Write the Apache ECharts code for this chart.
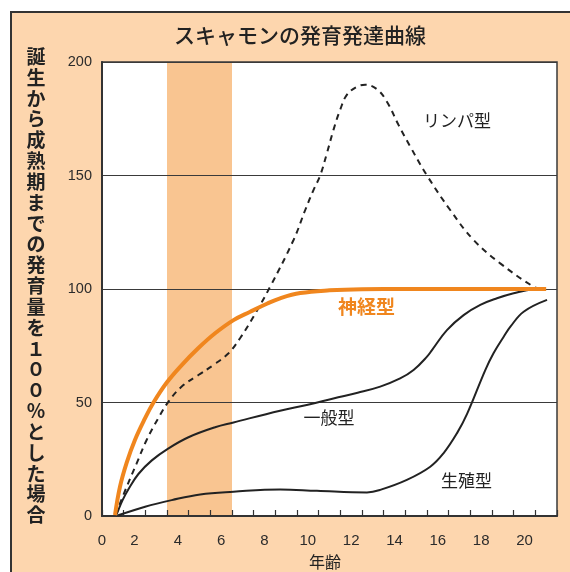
<!DOCTYPE html>
<html>
<head>
<meta charset="utf-8">
<script src="https://cdn.jsdelivr.net/npm/echarts@6/dist/echarts.min.js"></script>
<style>
  html, body { margin: 0; padding: 0; background: #ffffff; }
  #chart { width: 570px; height: 572px; }
</style>
</head>
<body>
<div id="chart"></div>
<script>
// Scammon growth curves. x values are positions on the age axis (one tick per year),
// y values are growth as % of the amount reached at maturity.
const nerveX   = [0.60, 0.83, 1.14, 1.52, 1.99, 2.37, 2.99, 3.68, 4.45, 5.22, 6.07, 6.84, 7.61, 8.22, 9.15, 10.5, 12, 14, 17, 20.5];
const nerveY   = [0.4, 12.9, 23.5, 33.5, 43.1, 49.9, 58.8, 66.5, 74, 80.5, 86.3, 90, 93.5, 95.9, 98.2, 99.4, 99.9, 100, 100, 100];

const lymphX   = [0.62, 1.14, 1.60, 2.06, 2.60, 3.07, 3.68, 4.45, 5.14, 5.84, 6.37, 6.99, 7.76, 8.84, 9.38, 9.76, 10.07, 10.38, 10.68, 10.99, 11.30, 11.76, 12.15, 12.69, 13.15, 13.69, 14.23, 15.0, 16.07, 17.15, 18.38, 19.92, 20.3];
const lymphY   = [0.4, 12.9, 23.2, 33.5, 43.1, 50.4, 57, 62.1, 66.5, 71.7, 78.3, 87.8, 101, 121.6, 134.8, 143.6, 150, 159.8, 170, 178.9, 185.5, 189.1, 190, 188, 182.5, 172.2, 162.7, 150, 134.8, 121.6, 111.3, 101, 100];

const generalX = [0.65, 0.95, 1.22, 1.68, 2.30, 3.07, 3.99, 5.22, 6.07, 8.22, 9.5, 10.68, 11.8, 12.84, 13.76, 14.38, 15.0, 15.23, 15.92, 16.69, 17.46, 18.23, 19.0, 19.92, 20.3];
const generalY = [0, 7, 11.8, 18.5, 24.5, 29.8, 34.7, 39.1, 41.2, 46.4, 49, 51.8, 54.3, 57, 60.6, 64.3, 70.2, 73.1, 81.9, 88.5, 93, 95.9, 98.1, 99.9, 100];

const genitalX = [0.75, 1.99, 3.22, 4.53, 6.07, 8.22, 9.92, 12.23, 12.84, 14.07, 15.15, 15.76, 16.38, 16.85, 17.69, 18.07, 18.54, 18.85, 19.46, 20.54];
const genitalY = [0.3, 4.1, 7, 9.5, 10.7, 11.7, 11.1, 10.4, 11.5, 15.9, 21.7, 27.6, 36.4, 45, 64.3, 71.7, 79, 83.4, 90, 95.2];

// highlighted early-childhood band on the age axis
const bandRange = [3, 6];

const yTicks = [0, 50, 100, 150, 200];
const ageLabels = ['0', '2', '4', '6', '8', '10', '12', '14', '16', '18', '20'];

const titleText = 'スキャモンの発育発達曲線';
const yName = '誕生から成熟期までの発育量を１００％とした場合';
const xName = '年齢';

const PEACH = '#FDD6AE';
const BAND = '#F9C591';
const ORANGE = '#F0861E';
const INK = '#2b2b2b';
const JP = '"Noto Sans CJK JP", "Noto Sans", sans-serif';
const NUM = '"Liberation Sans", Arial, sans-serif';

const zip = (xs, ys) => xs.map((x, i) => [x, ys[i]]);

const chart = echarts.init(document.getElementById('chart'), null, { renderer: 'canvas' });

const label = (text, x, y, font, fill) => ({
  type: 'text', z: 10,
  style: { text, x, y, textAlign: 'center', textVerticalAlign: 'middle', font, fill }
});

const curve = (name, xs, ys, lineStyle, z) => ({
  name, type: 'line', smooth: 0.4, showSymbol: false, z,
  data: zip(xs, ys), lineStyle
});

chart.setOption({
  backgroundColor: '#ffffff',
  animation: false,
  grid: {
    left: 102, top: 62, right: 13, bottom: 56,
    show: true, borderColor: '#3a3a3a', borderWidth: 1.5, backgroundColor: 'transparent'
  },
  xAxis: [
    {
      type: 'value', min: 0, max: 21, interval: 1,
      axisLine: { show: true, lineStyle: { color: '#333', width: 2 } },
      axisTick: { show: true, inside: true, length: 6, lineStyle: { color: '#333', width: 1.2 } },
      axisLabel: { show: false },
      splitLine: { show: false }
    },
    {
      // label-only axis, shifted half a year so age captions sit between ticks
      type: 'value', min: 0.5, max: 21.5, interval: 0.5, position: 'bottom',
      axisLine: { show: false }, axisTick: { show: false }, splitLine: { show: false },
      axisLabel: {
        interval: 0, margin: 17, fontSize: 15, color: INK, fontFamily: NUM, hideOverlap: false,
        formatter: v => {
          if (Math.abs(v - 0.5) < 1e-6) return ageLabels[0];
          if (Number.isInteger(v) && v % 2 === 0 && v >= 2) return ageLabels[v / 2];
          return '';
        }
      }
    }
  ],
  yAxis: {
    type: 'value', min: yTicks[0], max: yTicks[yTicks.length - 1], interval: 50,
    axisLine: { show: true, lineStyle: { color: '#333', width: 2 } },
    axisTick: { show: false },
    axisLabel: { margin: 10, fontSize: 14.5, color: INK, fontFamily: NUM },
    splitLine: { show: true, lineStyle: { color: '#3a3a3a', width: 1.2 } }
  },
  graphic: [
    { type: 'rect', z: -10, shape: { x: 11, y: 12, width: 620, height: 620 },
      style: { fill: PEACH, stroke: '#333', lineWidth: 2 } },
    { type: 'rect', z: -9, shape: { x: 102, y: 62, width: 455, height: 454 },
      style: { fill: '#ffffff' } },
    label(titleText, 300, 35, '500 21px ' + JP, '#222'),
    { type: 'text', z: 10,
      style: { text: yName.split('').join('\n'), x: 36, y: 46.3, textAlign: 'center',
               font: 'bold 19px ' + JP, lineHeight: 20.83, fill: '#222' } },
    label(xName, 325, 562, '16px ' + JP, '#222'),
    label('リンパ型', 457, 121, '17px ' + JP, '#222'),
    label('神経型', 366.5, 307, 'bold 19px ' + JP, ORANGE),
    label('一般型', 329, 418, '17px ' + JP, '#222'),
    label('生殖型', 466.5, 481, '17px ' + JP, '#222')
  ],
  series: [
    {
      name: 'band', type: 'line', z: -1, silent: true, showSymbol: false,
      data: [[bandRange[0], 200], [bandRange[1], 200]],
      lineStyle: { width: 0 }, areaStyle: { color: BAND, opacity: 1 }
    },
    curve('リンパ型', lymphX, lymphY, { color: '#222', width: 2, type: [6, 5] }, 3),
    curve('一般型', generalX, generalY, { color: '#222', width: 2 }, 3),
    curve('生殖型', genitalX, genitalY, { color: '#222', width: 2 }, 3),
    curve('神経型', nerveX, nerveY, { color: ORANGE, width: 4 }, 4)
  ]
});
</script>
</body>
</html>
